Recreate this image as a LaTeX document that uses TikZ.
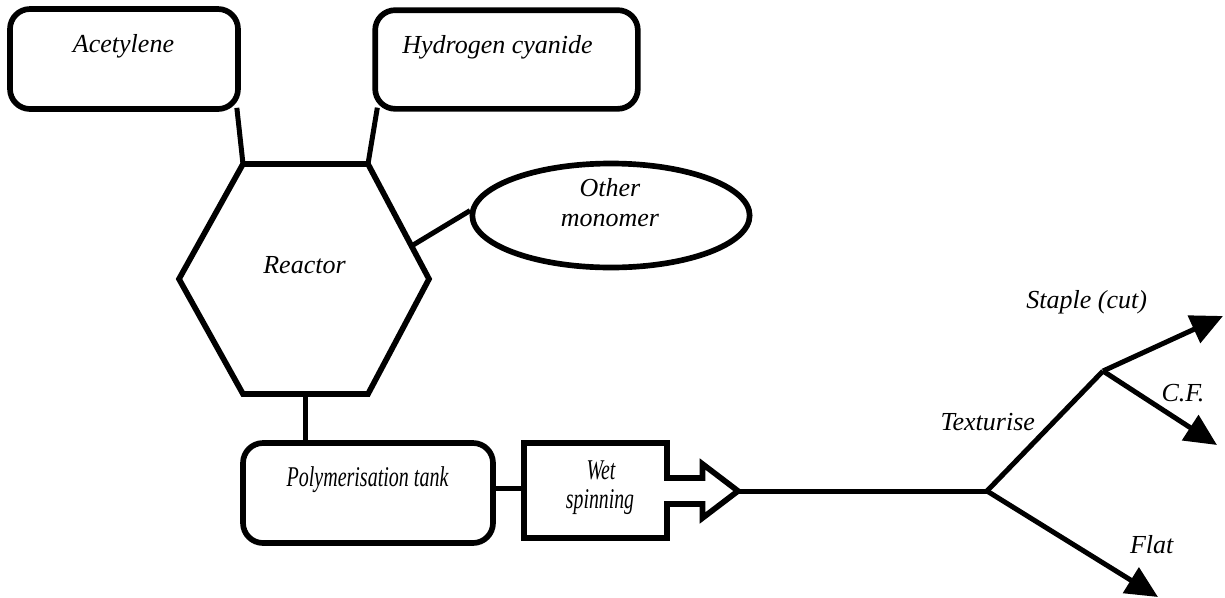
\documentclass[tikz,border=0pt]{standalone}
\usepackage{fontspec}
\setmainfont{Liberation Serif}
\usetikzlibrary{arrows.meta,calc,shapes.geometric}
\pgfdeclarelayer{bg}
\pgfsetlayers{bg,main}
\begin{document}
\begin{tikzpicture}[x=0.75pt,y=-0.75pt,
  lbl/.style={font=\fontsize{19.5}{23}\selectfont\itshape, inner sep=0, anchor=base},
  rbox/.style={draw, line width=4.25pt, rounded corners=15pt, fill=white, inner sep=0},
  shapeline/.style={draw, line width=4.25pt, fill=white, line join=miter},
  conn/.style={line width=3.75pt},
  arr/.style={conn, -{Triangle[length=24pt,width=22pt]}},
]
\useasboundingbox (0,0) rectangle (1225,597);

% source boxes
\node[rbox, minimum width=171pt, minimum height=75pt] (acet) at (124,59) {};
\node[lbl] (acetT) at (123.5,52) {Acetylene};
\node[rbox, minimum width=197pt, minimum height=74pt] (hcn) at (506.5,59.5) {};
\node[lbl] (hcnT) at (497.5,53) {Hydrogen cyanide};

% reactor hexagon
\coordinate (hTL) at (243,164);
\coordinate (hTR) at (368,164);
\coordinate (hR)  at (429,279);
\coordinate (hBR) at (368,394);
\coordinate (hBL) at (243,394);
\coordinate (hL)  at (179,279);
\draw[shapeline] (hTL) -- (hTR) -- (hR) -- (hBR) -- (hBL) -- (hL) -- cycle;
\node[lbl] (reactor) at (304.5,273) {Reactor};
\coordinate (hE) at ($(hTR)!0.713!(hR)$);
\coordinate (hB) at ($(hBL)!0.5!(hBR)$);

% other monomer
\node[draw, ellipse, line width=4.25pt, fill=white, minimum width=208pt, minimum height=78pt, inner sep=0] (mono) at (611,215.5) {};
\node[lbl] (monoA) at (610,196.7) {Other};
\node[lbl] (monoB) at (610,226) {monomer};

% polymerisation tank
\node[rbox, minimum width=187.5pt, minimum height=75pt] (tank) at (368,493) {};
\node[lbl] (tankT) at (367.5,486) {\scalebox{0.77}[1.1]{Polymerisation tank}};

% wet spinning block arrow
\draw[shapeline] (524,443) -- (667,443) -- (667,478) -- (702.5,478) -- (702.5,464)
  -- (738,491) -- (702.5,518) -- (702.5,504) -- (667,504) -- (667,538) -- (524,538) -- cycle;
\coordinate (wetW) at (524,488);
\coordinate (wetTip) at (738,491);
\node[lbl] (wetA) at (601,479) {\scalebox{0.76}[1.1]{Wet}};
\node[lbl] (wetB) at (600,508) {\scalebox{0.76}[1.1]{spinning}};

% branches
\coordinate (J1) at (987,491);
\coordinate (J2) at (1103,371);
\coordinate (tS) at (1223,316);
\coordinate (tC) at (1217,445);
\coordinate (tF) at (1158,597);
\draw[conn] (wetTip) -- (J1);
\draw[conn] (J1) -- (J2);
\draw[arr] (J2) -- (tS);
\draw[arr] (J2) -- (tC);
\draw[arr] (J1) -- (tF);
\node[lbl] (staple) at (1086.7,308.3) {Staple (cut)};
\node[lbl] (cf) at (1183,401.7) {C.F.};
\node[lbl] (tex) at (987.7,430) {Texturise};
\node[lbl] (flat) at (1151.7,553.3) {Flat};

% connectors behind shapes
\begin{pgfonlayer}{bg}
\draw[conn] ($(acet.south east)+(-4,-4)$) -- (hTL);
\draw[conn] ($(hcn.south west)+(5,-4)$) -- (hTR);
\draw[conn] (hE) -- (mono.178);
\draw[conn] (hB) -- (hB |- tank.north);
\draw[conn] (wetW -| tank.east) -- (wetW);
\end{pgfonlayer}
\end{tikzpicture}
\end{document}
